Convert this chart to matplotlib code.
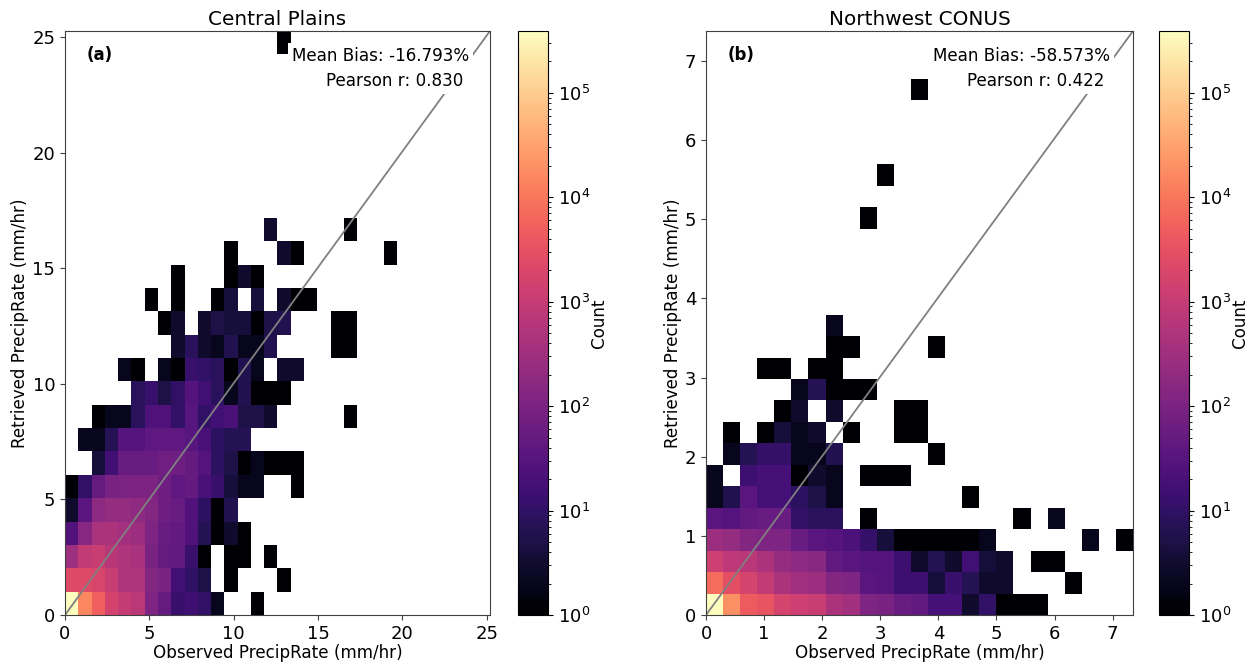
#!/usr/bin/env python3
"""Observed vs retrieved PrecipRate density for two regions."""

from __future__ import annotations

import matplotlib

matplotlib.use("Agg")

import matplotlib.pyplot as plt
import numpy as np
from matplotlib.colors import LogNorm


# counts per row from y=0 upward, columns from x=0; 0 is an empty bin
central_counts = [
    [400000, 15000, 5000, 1600, 1000, 700, 110, 50, 12, 15, 10, 2, 0, 0, 1],
    [2300, 2300, 1800, 1100, 500, 500, 130, 90, 16, 10, 5, 0, 1, 0, 0, 0, 1],
    [300, 900, 1100, 650, 500, 400, 90, 50, 45, 12, 1, 0, 1, 1, 0, 1],
    [25, 150, 450, 450, 350, 280, 110, 55, 45, 25, 7, 1, 3, 1],
    [3, 35, 170, 220, 220, 180, 130, 65, 55, 25, 9, 1, 6],
    [1, 10, 50, 90, 100, 105, 105, 65, 40, 50, 20, 12, 4, 2, 2, 0, 0, 1],
    [0, 0, 4, 16, 55, 55, 55, 70, 65, 50, 28, 9, 5, 1, 2, 1, 1, 1],
    [0, 2, 2, 7, 28, 28, 40, 40, 40, 32, 20, 9, 7, 7],
    [0, 0, 1, 2, 2, 8, 24, 24, 10, 32, 10, 16, 20, 5, 5, 3, 0, 0, 0, 0, 0, 1],
    [0, 0, 0, 0, 0, 8, 12, 5, 10, 28, 16, 8, 2, 6, 1, 1, 1],
    [0, 0, 0, 0, 2, 1, 0, 2, 1, 12, 10, 8, 1, 6, 2, 0, 3, 3],
    [0, 0, 0, 0, 0, 0, 0, 0, 3, 8, 3, 2, 6, 2, 2, 6, 0, 0, 0, 0, 1, 1],
    [0, 0, 0, 0, 0, 0, 0, 1, 3, 0, 3, 5, 4, 4, 1, 5, 6, 0, 0, 0, 1, 1],
    [0, 0, 0, 0, 0, 0, 1, 0, 1, 0, 0, 1, 4, 0, 4, 0, 3, 1, 1],
    [0, 0, 0, 0, 0, 0, 0, 0, 1, 0, 0, 0, 1, 3, 1],
    [0, 0, 0, 0, 0, 0, 0, 0, 0, 0, 0, 0, 1, 0, 0, 0, 3, 1, 0, 0, 0, 0, 0, 0, 1],
    [0, 0, 0, 0, 0, 0, 0, 0, 0, 0, 0, 0, 0, 0, 0, 3, 0, 0, 0, 0, 0, 1],
    [],
    [],
    [],
    [],
    [],
    [],
    [],
    [0, 0, 0, 0, 0, 0, 0, 0, 0, 0, 0, 0, 0, 0, 0, 0, 1],
]

northwest_counts = [
    [400000, 20000, 4500, 3500, 1700, 1300, 1100, 450, 350, 110, 90, 55, 45, 18, 18, 3, 10, 1, 1, 1],
    [7000, 2800, 1700, 900, 450, 320, 280, 130, 110, 35, 30, 14, 14, 4, 12, 7, 3, 3, 0, 0, 0, 1],
    [1300, 800, 700, 450, 220, 180, 160, 45, 35, 28, 28, 14, 3, 7, 3, 16, 4, 3, 0, 1, 1],
    [280, 220, 130, 110, 110, 55, 35, 28, 22, 11, 4, 1, 1, 1, 1, 1, 2, 0, 0, 0, 0, 0, 2, 0, 1],
    [35, 28, 45, 55, 55, 10, 8, 8, 0, 1, 0, 0, 0, 0, 0, 0, 0, 0, 1, 0, 2],
    [2, 6, 35, 18, 18, 9, 5, 2, 0, 0, 0, 0, 0, 0, 0, 1],
    [2, 0, 14, 18, 18, 1, 3, 2, 0, 1, 1, 1],
    [0, 2, 7, 11, 11, 2, 2, 6, 0, 0, 0, 0, 0, 1],
    [0, 1, 0, 1, 4, 2, 3, 0, 1, 0, 0, 1, 1],
    [0, 0, 0, 0, 1, 3, 0, 3, 0, 0, 0, 1, 1],
    [0, 0, 0, 0, 0, 2, 7, 1, 1, 1],
    [0, 0, 0, 1, 1, 0, 1, 1],
    [0, 0, 0, 0, 0, 0, 0, 1, 1, 0, 0, 0, 0, 1],
    [0, 0, 0, 0, 0, 0, 0, 2],
    [],
    [],
    [],
    [],
    [0, 0, 0, 0, 0, 0, 0, 0, 0, 1],
    [],
    [0, 0, 0, 0, 0, 0, 0, 0, 0, 0, 1],
    [],
    [],
    [],
    [0, 0, 0, 0, 0, 0, 0, 0, 0, 0, 0, 0, 1],
]

titles = ["Central Plains", "Northwest CONUS"]
panel_tags = ["(a)", "(b)"]
stat_labels = ["Mean Bias: -16.793%\nPearson r: 0.830 ", "Mean Bias: -58.573%\nPearson r: 0.422 "]
stat_x = [0.9506, 0.946]
x_limits = [25.2, 7.35]
y_limits = [25.28, 7.38]
x_bin_tops = [25.2, 7.35]
y_bin_tops = [25.28, 7.32]
n_cols = [32, 25]
n_rows = [25, 27]
x_ticks = [[0, 5, 10, 15, 20, 25], [0, 1, 2, 3, 4, 5, 6, 7]]
y_ticks = [[0, 5, 10, 15, 20, 25], [0, 1, 2, 3, 4, 5, 6, 7]]
VMAX = 3.9e5

AXES_RECTS = [(65, 31, 425, 584), (706, 31, 427, 584)]
CBAR_RECTS = [(518, 31, 30, 584), (1159, 31, 30, 584)]
FIG_W, FIG_H = 1252, 663
SPINE = "0.25"


def to_grid(rows: list[list[int]], nrow: int, ncol: int) -> np.ma.MaskedArray:
    grid = np.zeros((nrow, ncol))
    for idx, row in enumerate(rows):
        grid[idx, : len(row)] = row
    return np.ma.masked_equal(grid, 0)


def fig_rect(rect: tuple[int, int, int, int]) -> list[float]:
    left, top, width, height = rect
    return [left / FIG_W, 1 - (top + height) / FIG_H, width / FIG_W, height / FIG_H]


def main() -> None:
    plt.rcParams["font.family"] = "DejaVu Sans"
    fig = plt.figure(figsize=(FIG_W / 100, FIG_H / 100), dpi=100)
    cmap = plt.get_cmap("magma").copy()
    cmap.set_bad("white")
    norm = LogNorm(vmin=1, vmax=VMAX)

    for i, counts in enumerate([central_counts, northwest_counts]):
        ax = fig.add_axes(fig_rect(AXES_RECTS[i]))
        cax = fig.add_axes(fig_rect(CBAR_RECTS[i]))
        x_edges = np.linspace(0, x_bin_tops[i], n_cols[i] + 1)
        y_edges = np.linspace(0, y_bin_tops[i], n_rows[i] + 1)
        mesh = ax.pcolormesh(x_edges, y_edges, to_grid(counts, n_rows[i], n_cols[i]), cmap=cmap, norm=norm)
        ax.plot([0, x_limits[i]], [0, y_limits[i]], color="gray", linewidth=1.3)
        ax.set_xlim(0, x_limits[i])
        ax.set_ylim(0, y_limits[i])
        ax.set_xticks(x_ticks[i])
        ax.set_yticks(y_ticks[i])
        ax.tick_params(labelsize=13, color=SPINE)
        for spine in ax.spines.values():
            spine.set_color(SPINE)
        ax.set_xlabel("Observed PrecipRate (mm/hr)", fontsize=12.1, labelpad=1)
        ax.set_ylabel("Retrieved PrecipRate (mm/hr)", fontsize=12.1, labelpad=2)
        ax.set_title(titles[i], fontsize=14.4, pad=4)
        ax.text(0.05, 0.959, panel_tags[i], transform=ax.transAxes, fontsize=12, fontweight="bold", va="center")
        ax.text(
            stat_x[i],
            0.972,
            stat_labels[i],
            transform=ax.transAxes,
            fontsize=12.1,
            ha="right",
            va="top",
            multialignment="right",
            linespacing=1.45,
            bbox={"facecolor": "white", "edgecolor": "none", "pad": 3},
        )
        cbar = fig.colorbar(mesh, cax=cax)
        cbar.ax.tick_params(labelsize=13)
        cbar.set_label("Count", fontsize=12.1, labelpad=0)

    fig.savefig("out.png", dpi=100)
    plt.close(fig)


if __name__ == "__main__":
    main()
